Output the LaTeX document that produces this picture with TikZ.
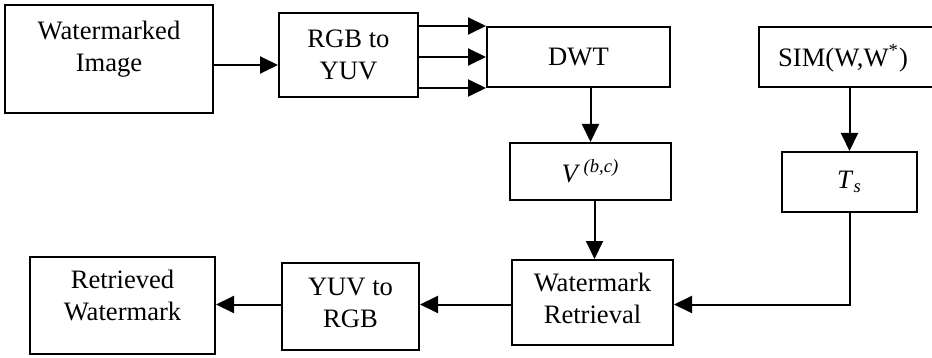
\documentclass[tikz,border=0pt]{standalone}
\usepackage{fontspec}
\setmainfont{Liberation Serif}
\usetikzlibrary{arrows.meta,calc}
\begin{document}
\begin{tikzpicture}[x=0.5pt,y=-0.5pt,
  box/.style={draw,line width=1pt,rectangle,inner sep=0pt,align=center,
    font=\fontsize{13.3}{16}\selectfont},
  txt/.style={inner sep=0pt,align=center,font=\fontsize{13.3}{16}\selectfont},
  conn/.style={line width=1pt,-{Triangle[length=9pt,width=8.5pt]}}]
\useasboundingbox (0,0) rectangle (932,358);
\node[box,minimum width=208*0.5pt,minimum height=108*0.5pt] (wi) at (109,59) {};
\node[txt] (wit) at (109,49) {Watermarked\\Image};
\node[box,minimum width=139*0.5pt,minimum height=84*0.5pt] (rgb) at (348.5,55) {RGB to\\YUV};
\node[box,minimum width=183*0.5pt,minimum height=60*0.5pt] (dwt) at (578.5,57) {DWT};
\node[box,minimum width=161*0.5pt,minimum height=57*0.5pt] (v) at (590.5,171.5) {\textit{V}\textsuperscript{\,\textit{(b,c)}}};
\node[box,minimum width=161*0.5pt,minimum height=85*0.5pt] (wr) at (592.5,302.5) {};
\node[txt] (wrt) at (592.5,298.5) {Watermark\\Retrieval};
\node[box,minimum width=190*0.5pt,minimum height=60*0.5pt] (sim) at (854,57) {};
\node[txt] (simt) at (843,58) {SIM(W,W\textsuperscript{*})};
\node[box,minimum width=135*0.5pt,minimum height=60*0.5pt] (ts) at (849.5,182) {\textit{T}\textsubscript{\textit{s}}};
\node[box,minimum width=137*0.5pt,minimum height=87*0.5pt] (yuv) at (350.5,306.5) {};
\node[txt] (yuvt) at (350.5,303) {YUV to\\RGB};
\node[box,minimum width=185*0.5pt,minimum height=97*0.5pt] (rw) at (122.5,305.5) {};
\node[txt] (rwt) at (122.5,295.5) {Retrieved\\Watermark};
% connectors
\draw[conn] ([yshift=-3pt]wi.east) -- ([yshift=-3pt]wi.east -| rgb.west);
\draw[conn] (rgb.east |- dwt.north west) -- (dwt.north west);
\draw[conn] (rgb.east |- dwt.west) -- (dwt.west);
\draw[conn] (rgb.east |- dwt.south west) -- (dwt.south west);
\draw[conn] (v.north |- dwt.south) -- (v.north);
\draw[conn] ([xshift=2pt]v.south) -- ([xshift=2pt]v.south |- wr.north);
\draw[conn] (ts.north |- sim.south) -- (ts.north);
\draw[conn] (ts.south) |- ([yshift=-1pt]wr.east);
\draw[conn] ([yshift=-1pt]wr.west) -- ([yshift=-1pt]wr.west -| yuv.east);
\draw[conn] ([yshift=-1pt]wr.west -| yuv.west) -- ([yshift=-1pt]wr.west -| rw.east);
\end{tikzpicture}
\end{document}
